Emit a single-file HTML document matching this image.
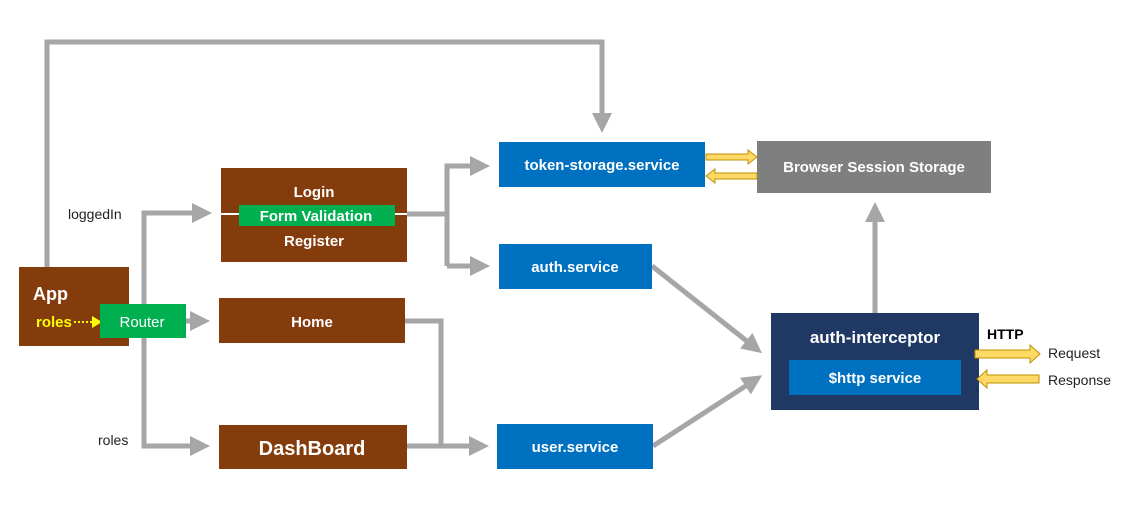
<!DOCTYPE html>
<html><head><meta charset="utf-8"><style>
html,body{margin:0;padding:0;background:#fff;}
svg{display:block;font-family:"Liberation Sans",Arial,sans-serif;}
</style></head><body>
<svg width="1123" height="513" viewBox="0 0 1123 513" xmlns="http://www.w3.org/2000/svg">
<defs>
<marker id="ga" markerWidth="4" markerHeight="4" refX="3" refY="2" orient="auto" markerUnits="strokeWidth">
<path d="M0,0 L4,2 L0,4 z" fill="#A6A6A6"/></marker>
</defs>
<g stroke="#A6A6A6" stroke-width="5" fill="none">
<polyline points="47,267 47,42 602,42 602,128" marker-end="url(#ga)"/>
<polyline points="153,213 144,213 144,446 205,446" marker-end="url(#ga)"/>
<line x1="144" y1="213" x2="207" y2="213" marker-end="url(#ga)"/>
<line x1="186" y1="321" x2="205" y2="321" marker-end="url(#ga)"/>
<polyline points="407,214 447,214"/>
<polyline points="447,266 447,166 485,166" marker-end="url(#ga)"/>
<polyline points="447,266 485,266" marker-end="url(#ga)"/>
<polyline points="405,321 441,321 441,446"/>
<line x1="407" y1="446" x2="484" y2="446" marker-end="url(#ga)"/>
<line x1="652" y1="266" x2="758" y2="350" marker-end="url(#ga)"/>
<line x1="653" y1="446" x2="758" y2="378" marker-end="url(#ga)"/>
<line x1="875" y1="313" x2="875" y2="207" marker-end="url(#ga)"/>
</g>
<!-- boxes -->
<rect x="19" y="267" width="110" height="79" fill="#843C0C"/>
<text x="33" y="300" font-size="18" font-weight="bold" fill="#fff">App</text>
<text x="36" y="327" font-size="15" font-weight="bold" fill="#FFFF00">roles</text>
<line x1="74" y1="322" x2="92" y2="322" stroke="#FFFF00" stroke-width="2" stroke-dasharray="2,2"/>
<path d="M92,316 L102,322 L92,328 z" fill="#FFFF00"/>
<rect x="100" y="304" width="86" height="34" fill="#00B050"/>
<text x="142" y="327" font-size="15" fill="#fff" text-anchor="middle">Router</text>

<rect x="221" y="168" width="186" height="94" fill="#843C0C"/>
<line x1="221" y1="214" x2="407" y2="214" stroke="#fff" stroke-width="2"/>
<rect x="239" y="205" width="156" height="21" fill="#00B050"/>
<text x="314" y="197" font-size="15" font-weight="bold" fill="#fff" text-anchor="middle">Login</text>
<text x="316" y="221" font-size="15" font-weight="bold" fill="#fff" text-anchor="middle">Form Validation</text>
<text x="314" y="246" font-size="15" font-weight="bold" fill="#fff" text-anchor="middle">Register</text>

<rect x="219" y="298" width="186" height="45" fill="#843C0C"/>
<text x="312" y="327" font-size="15" font-weight="bold" fill="#fff" text-anchor="middle">Home</text>
<rect x="219" y="425" width="188" height="44" fill="#843C0C"/>
<text x="312" y="455" font-size="20" font-weight="bold" fill="#fff" text-anchor="middle">DashBoard</text>

<text x="68" y="219" font-size="14" fill="#222">loggedIn</text>
<text x="98" y="445" font-size="14" fill="#222">roles</text>

<rect x="499" y="142" width="206" height="45" fill="#0070C0"/>
<text x="602" y="170" font-size="15" font-weight="bold" fill="#fff" text-anchor="middle">token-storage.service</text>
<rect x="499" y="244" width="153" height="45" fill="#0070C0"/>
<text x="575" y="272" font-size="15" font-weight="bold" fill="#fff" text-anchor="middle">auth.service</text>
<rect x="497" y="424" width="156" height="45" fill="#0070C0"/>
<text x="575" y="452" font-size="15" font-weight="bold" fill="#fff" text-anchor="middle">user.service</text>

<rect x="757" y="141" width="234" height="52" fill="#7F7F7F"/>
<text x="874" y="172" font-size="15" font-weight="bold" fill="#fff" text-anchor="middle">Browser Session Storage</text>

<rect x="771" y="313" width="208" height="97" fill="#1F3864"/>
<text x="875" y="343" font-size="17" font-weight="bold" fill="#fff" text-anchor="middle">auth-interceptor</text>
<rect x="789" y="360" width="172" height="35" fill="#0070C0"/>
<text x="875" y="383" font-size="15" font-weight="bold" fill="#fff" text-anchor="middle">$http service</text>

<!-- yellow arrows -->
<g fill="#FFD966" stroke="#BF9000" stroke-width="1">
<path d="M706,154 L748,154 L748,150 L757,157 L748,164 L748,160 L706,160 z"/>
<path d="M757,173 L715,173 L715,169 L706,176 L715,183 L715,179 L757,179 z"/>
<path d="M975,350 L1030,350 L1030,345 L1040,354 L1030,363 L1030,358 L975,358 z"/>
<path d="M1039,375 L987,375 L987,370 L977,379 L987,388 L987,383 L1039,383 z"/>
</g>
<text x="987" y="339" font-size="14" font-weight="bold" fill="#000">HTTP</text>
<text x="1048" y="358" font-size="14" fill="#222">Request</text>
<text x="1048" y="385" font-size="14" fill="#222">Response</text>
</svg>
</body></html>
